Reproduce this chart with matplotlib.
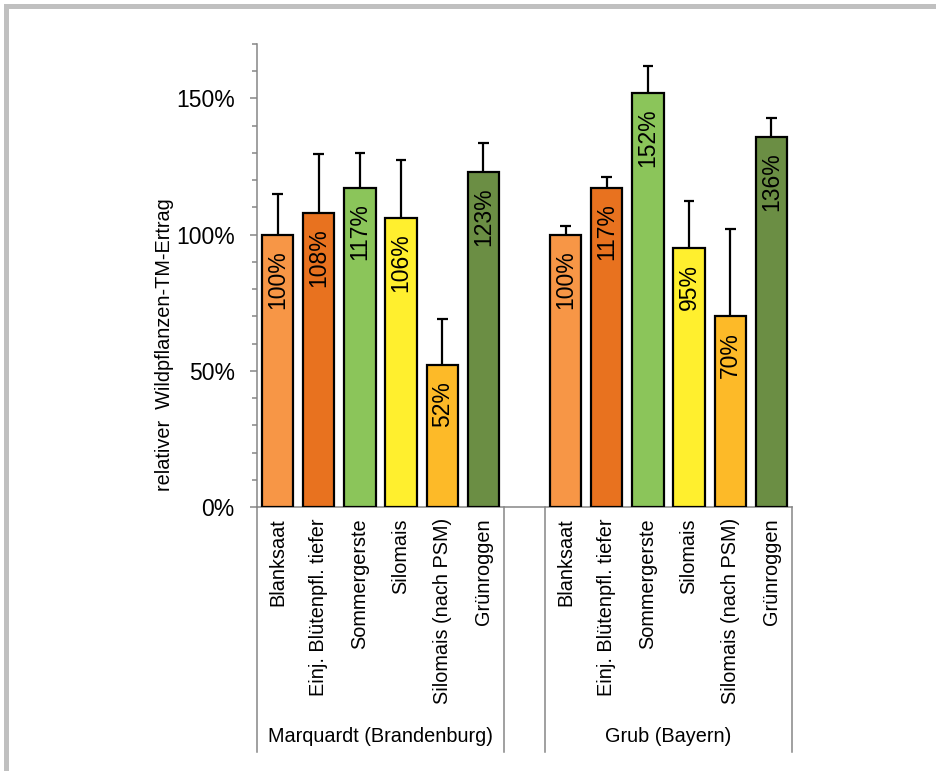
import matplotlib
matplotlib.use('Agg')
import matplotlib.pyplot as plt
import matplotlib.transforms as mtransforms
from matplotlib.patches import Rectangle

plt.rcParams['font.family'] = ['Liberation Sans', 'DejaVu Sans']

# Varianten und Standorte
varianten = ['Blanksaat', 'Einj. Blütenpfl. tiefer', 'Sommergerste', 'Silomais',
             'Silomais (nach PSM)', 'Grünroggen']
standorte = ['Marquardt (Brandenburg)', 'Grub (Bayern)']
farben = ['#F79646', '#E8721F', '#8BC55A', '#FFEF2E', '#FDBA28', '#6B8E44']

# relativer Ertrag in % (Blanksaat = 100 %) und obere Fehlerbalken
ertrag_marquardt = [100, 108, 117, 106, 52, 123]
fehler_marquardt = [15, 21.5, 13, 21.5, 17, 10.5]
ertrag_grub = [100, 117, 152, 95, 70, 136]
fehler_grub = [3, 4, 10, 17.5, 32, 7]

grau = '#868686'

fig = plt.figure(figsize=(9.36, 7.71), dpi=100)
ax = fig.add_axes([257 / 936, 1 - 507 / 771, 535 / 936, 463 / 771])

# Positionen: 6 Balken, eine Leerstelle, 6 Balken
pos_m = list(range(0, 6))
pos_g = list(range(7, 13))
breite = 0.76
cap = 0.13

for pos, werte, fehler in [(pos_m, ertrag_marquardt, fehler_marquardt),
                           (pos_g, ertrag_grub, fehler_grub)]:
    ax.bar(pos, werte, width=breite, color=farben, edgecolor='black',
           linewidth=1.6, zorder=3)
    oben = [w + f for w, f in zip(werte, fehler)]
    ax.vlines(pos, werte, oben, color='black', linewidth=1.6, zorder=2)
    ax.hlines(oben, [p - cap for p in pos], [p + cap for p in pos],
              color='black', linewidth=1.6, zorder=2)
    for p, w in zip(pos, werte):
        ax.annotate(f'{w}%', xy=(p, w), xytext=(0, -11), textcoords='offset points',
                    rotation=90, ha='center', va='top', fontsize=16.5,
                    color='black', zorder=4)

ax.set_xlim(-0.5, 12.5)
ax.set_ylim(0, 170)

# y-Achse
ax.set_yticks([0, 50, 100, 150])
ax.set_yticklabels([f'{v}%' for v in [0, 50, 100, 150]])
ax.set_yticks(range(0, 171, 10), minor=True)
ax.tick_params(axis='y', which='major', direction='out', length=5, width=1.1,
               color=grau, labelsize=16.5, pad=11)
ax.tick_params(axis='y', which='minor', direction='out', length=3.5, width=1.1,
               color=grau)

# x-Achse mit gedrehten Beschriftungen
ax.set_xticks(pos_m + pos_g)
ax.set_xticklabels(varianten * 2, rotation=90, va='top')
ax.tick_params(axis='x', length=0, labelsize=14.3, pad=8)

for s in ['top', 'right']:
    ax.spines[s].set_visible(False)
for s in ['left', 'bottom']:
    ax.spines[s].set_color(grau)
    ax.spines[s].set_linewidth(1.1)

# Trennlinien der Kategorien unter der Achse
trans = mtransforms.blended_transform_factory(ax.transData, ax.transAxes)
unten = -(752 - 507) / 463
for x in [-0.5, 5.5, 6.5, 12.5]:
    ax.plot([x, x], [0, unten], transform=trans, color=grau, linewidth=1.1,
            clip_on=False)

# Standortbeschriftungen
for pos, name in zip([pos_m, pos_g], standorte):
    mitte = (pos[0] + pos[-1]) / 2
    ax.text(mitte, -(737 - 507) / 463, name, transform=trans, ha='center',
            va='center', fontsize=14.3)

fig.text(165 / 936, 1 - 345 / 771, 'relativer  Wildpflanzen-TM-Ertrag', rotation=90,
         ha='center', va='center', fontsize=14.3)

# grauer Rahmen oben und links
fig.add_artist(Rectangle((4 / 936, 1 - 9 / 771), 932 / 936, 5 / 771,
                         transform=fig.transFigure, color='#C0C0C0', linewidth=0))
fig.add_artist(Rectangle((4 / 936, 0), 5 / 936, 1 - 4 / 771,
                         transform=fig.transFigure, color='#C0C0C0', linewidth=0))

fig.savefig('out.png', dpi=100)
